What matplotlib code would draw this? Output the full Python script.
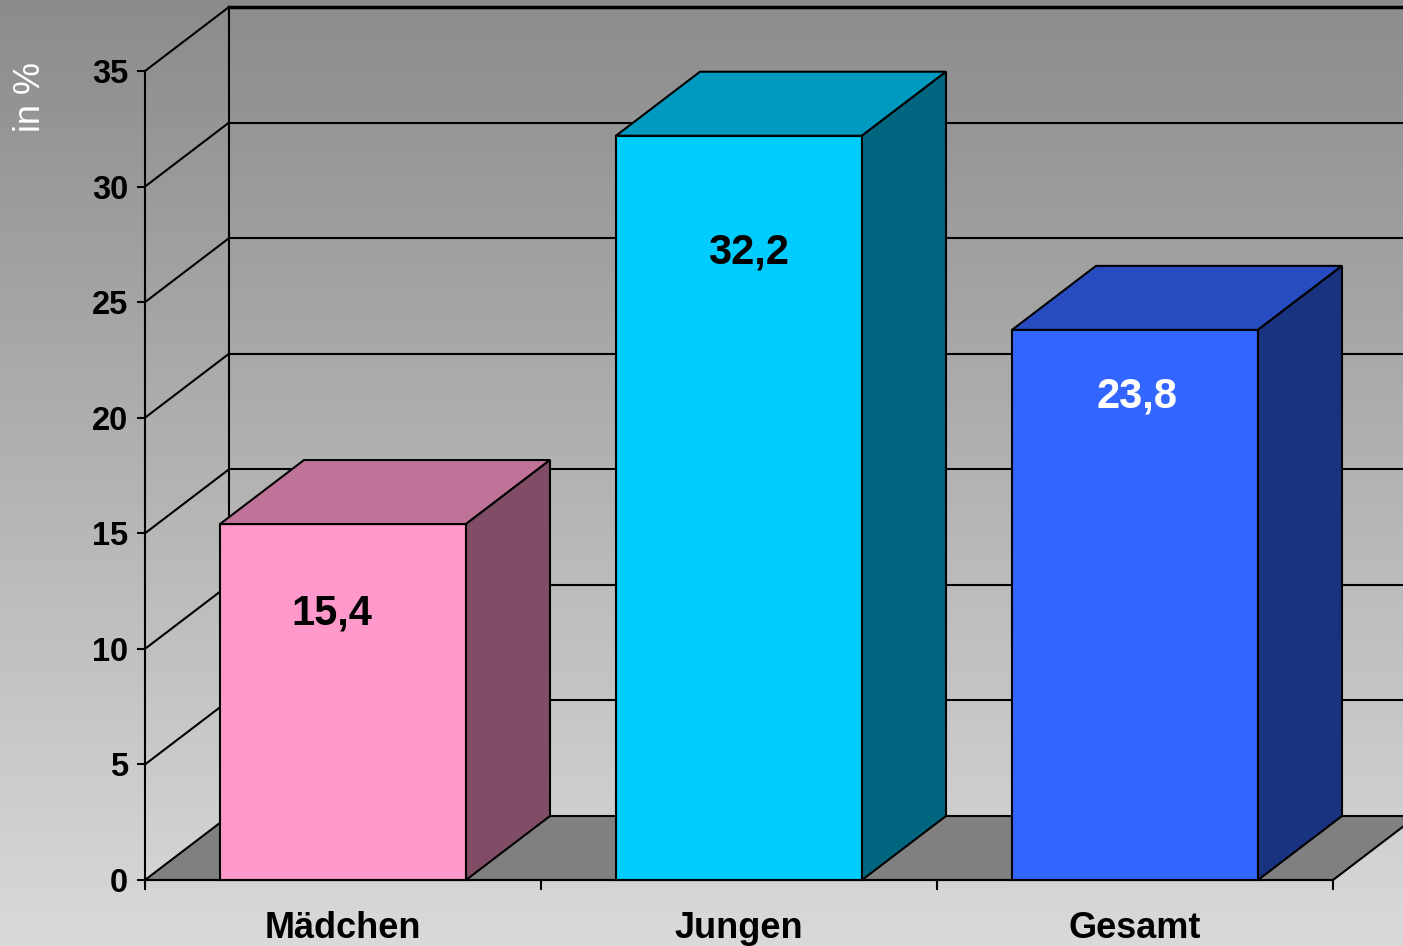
import numpy as np
import matplotlib
matplotlib.use('Agg')
import matplotlib.pyplot as plt
from matplotlib.patches import Polygon

plt.rcParams['font.family'] = ['Liberation Sans', 'DejaVu Sans']

# data
categories = ['Mädchen', 'Jungen', 'Gesamt']
values = [15.4, 32.2, 23.8]
value_labels = ['15,4', '32,2', '23,8']
yticks = [0, 5, 10, 15, 20, 25, 30, 35]

front_colors = ['#FF99CC', '#00CCFF', '#3366FF']
top_colors = ['#C07399', '#0099BF', '#264CBF']
side_colors = ['#804C66', '#006680', '#1A3380']
label_colors = ['black', 'black', 'white']
label_dx = [-0.028, 0.025, 0.005]
label_dy = [-3.85, -5.05, -2.9]

W, H = 1403, 946
fig = plt.figure(figsize=(W / 100, H / 100), dpi=100)

# background gradient
bg = fig.add_axes([0, 0, 1, 1], zorder=-10)
grad = np.linspace(0.545, 0.85, 256).reshape(-1, 1)
bg.imshow(grad, cmap='gray', vmin=0, vmax=1, aspect='auto', extent=[0, 1, 1, 0])
bg.set_axis_off()

ax = fig.add_axes([145 / W, (H - 880) / H, 1188 / W, 809 / H])
ax.set_xlim(0, 3)
ax.set_ylim(0, 35)
ax.patch.set_visible(False)

# depth offset in data units
dx = 84 / 396
dy = 64 / (809 / 35)
lw = 1.5

# floor
ax.add_patch(Polygon([(0, 0), (3, 0), (3 + dx, dy), (dx, dy)], closed=True,
                     facecolor='#808080', edgecolor='black', lw=lw, clip_on=False, zorder=1))

# walls and gridlines
for t in yticks[1:]:
    ax.plot([0, dx], [t, t + dy], color='black', lw=lw, clip_on=False, zorder=2)
    ax.plot([dx, 3 + dx + 1], [t + dy, t + dy], color='black',
            lw=(2.5 if t == 35 else lw), clip_on=False, zorder=2)
ax.plot([dx, dx], [dy, 35 + dy], color='black', lw=lw, clip_on=False, zorder=2)

# bars
bw = 246 / 396
for i, v in enumerate(values):
    x0 = i + 0.5 - bw / 2
    x1 = i + 0.5 + bw / 2
    ax.add_patch(Polygon([(x0, 0), (x1, 0), (x1, v), (x0, v)], closed=True,
                         facecolor=front_colors[i], edgecolor='black', lw=lw, clip_on=False, zorder=3))
    ax.add_patch(Polygon([(x0, v), (x1, v), (x1 + dx, v + dy), (x0 + dx, v + dy)], closed=True,
                         facecolor=top_colors[i], edgecolor='black', lw=lw, clip_on=False, zorder=3))
    ax.add_patch(Polygon([(x1, 0), (x1 + dx, dy), (x1 + dx, v + dy), (x1, v)], closed=True,
                         facecolor=side_colors[i], edgecolor='black', lw=lw, clip_on=False, zorder=3))
    ax.text(i + 0.5 + label_dx[i], v + label_dy[i], value_labels[i], ha='center', va='center',
            fontsize=30, fontweight='bold', color=label_colors[i], zorder=4)

# axes
for s in ['top', 'right']:
    ax.spines[s].set_visible(False)
for s in ['left', 'bottom']:
    ax.spines[s].set_linewidth(lw)
    ax.spines[s].set_zorder(5)

ax.set_yticks(yticks)
ax.set_yticklabels([str(t) for t in yticks], fontsize=23.5, fontweight='bold')
ax.tick_params(axis='y', length=6, width=lw, pad=6)
ax.set_xticks([0, 1, 2, 3])
ax.set_xticklabels([])
ax.tick_params(axis='x', which='major', length=7, width=lw)
ax.set_xticks([0.5, 1.5, 2.5], minor=True)
ax.set_xticklabels(categories, minor=True, fontsize=26, fontweight='bold')
ax.tick_params(axis='x', which='minor', length=0, pad=22.5)

fig.text(30 / W, 1 - 97 / H, 'in %', rotation=90, ha='center', va='center',
         fontsize=26, color='white')

fig.savefig('out.png', dpi=100)
